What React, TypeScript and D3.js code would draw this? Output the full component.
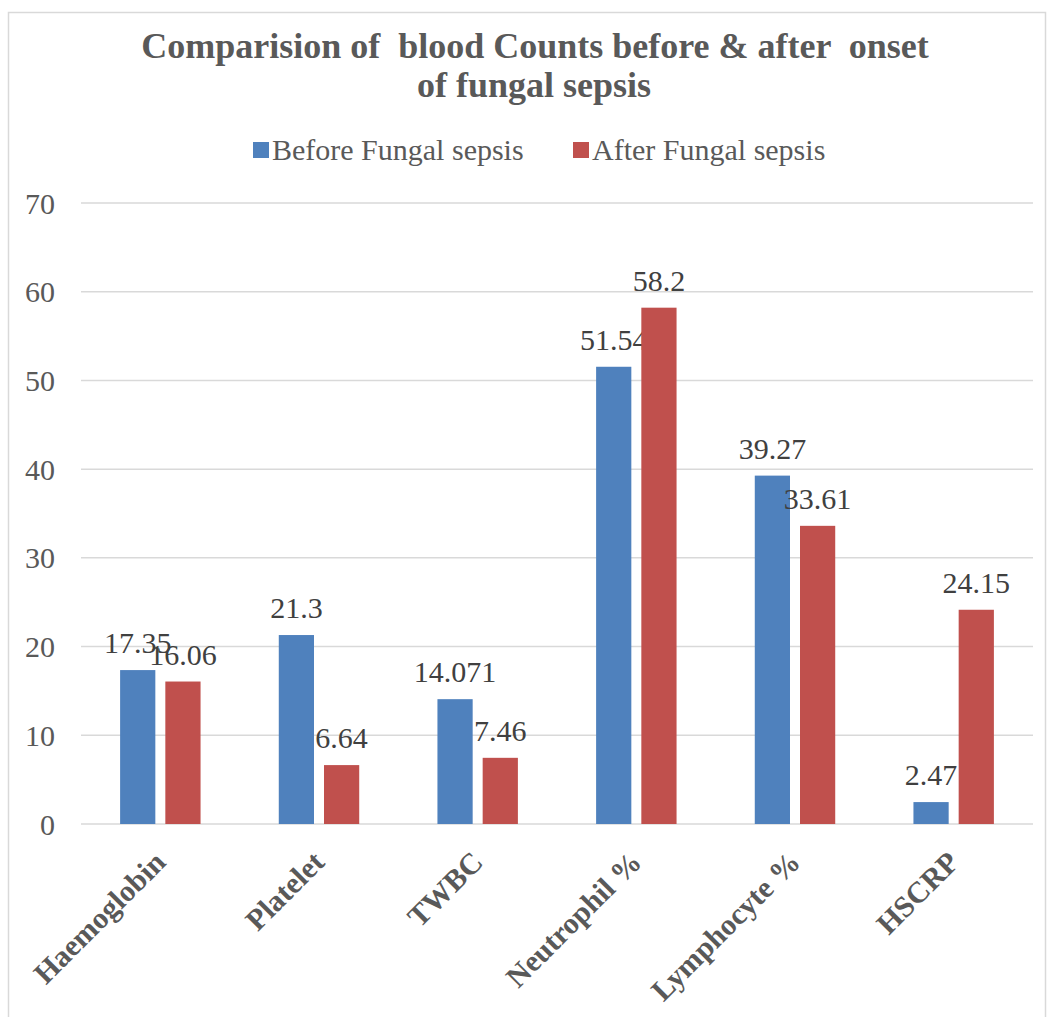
import React, { useEffect, useRef } from "react";
import * as d3 from "d3";

const categories = ["Haemoglobin", "Platelet", "TWBC", "Neutrophil %", "Lymphocyte %", "HSCRP"];
const beforeValues = [17.35, 21.3, 14.071, 51.54, 39.27, 2.47];
const afterValues = [16.06, 6.64, 7.46, 58.2, 33.61, 24.15];
const seriesNames = ["Before Fungal sepsis", "After Fungal sepsis"];
const seriesColors = ["#4f81bd", "#c0504d"];
const yTicks = [0, 10, 20, 30, 40, 50, 60, 70];

const W = 1054;
const H = 1017;
const FONT = "'Liberation Serif', 'Times New Roman', serif";

const App = () => {
  const svgRef = useRef<SVGSVGElement | null>(null);

  useEffect(() => {
    const svg = d3.select(svgRef.current);
    svg.selectAll("*").remove();

    const margin = { top: 203, right: 21, bottom: 193, left: 81 };
    const innerW = W - margin.left - margin.right;
    const innerH = H - margin.top - margin.bottom;

    // chart frame
    svg
      .append("rect")
      .attr("x", 8.5)
      .attr("y", 12.5)
      .attr("width", 1037)
      .attr("height", 1030)
      .attr("fill", "#fff")
      .attr("stroke", "#d9d9d9")
      .attr("stroke-width", 1.5);

    // title
    const title = svg
      .append("text")
      .attr("text-anchor", "middle")
      .attr("font-family", FONT)
      .attr("font-weight", "bold")
      .attr("font-size", 36)
      .attr("fill", "#595959")
      .style("white-space", "pre");
    title.append("tspan").attr("x", 535).attr("y", 58).text("Comparision of  blood Counts before & after  onset");
    title.append("tspan").attr("x", 534).attr("y", 97).text("of fungal sepsis");

    // legend
    const legend = svg.append("g").attr("font-family", FONT).attr("font-size", 30).attr("fill", "#595959");
    const legendX = [253, 573];
    seriesNames.forEach((name, i) => {
      legend
        .append("rect")
        .attr("x", legendX[i])
        .attr("y", 142)
        .attr("width", 16)
        .attr("height", 16)
        .attr("fill", seriesColors[i]);
      legend
        .append("text")
        .attr("x", legendX[i] + 19)
        .attr("y", 160)
        .text(name);
    });

    const g = svg.append("g").attr("transform", `translate(${margin.left},${margin.top})`);

    const x = d3.scaleBand().domain(categories).range([0, innerW]);
    const y = d3.scaleLinear().domain([0, 70]).range([innerH, 0]);
    const barW = x.bandwidth() * 0.222;
    const gap = 10;
    const x1 = d3
      .scaleOrdinal<number, number>()
      .domain([0, 1])
      .range([-gap / 2 - barW, gap / 2]);

    // gridlines
    g.selectAll(".grid")
      .data(yTicks)
      .enter()
      .append("line")
      .attr("x1", 0)
      .attr("x2", innerW)
      .attr("y1", (d) => y(d))
      .attr("y2", (d) => y(d))
      .attr("stroke", "#d9d9d9")
      .attr("stroke-width", 1.5);

    // y labels
    g.selectAll(".ylab")
      .data(yTicks)
      .enter()
      .append("text")
      .attr("x", -26)
      .attr("y", (d) => y(d))
      .attr("dy", "0.35em")
      .attr("text-anchor", "end")
      .attr("font-family", FONT)
      .attr("font-size", 30)
      .attr("fill", "#595959")
      .text((d) => d);

    const series = [beforeValues, afterValues];
    series.forEach((vals, si) => {
      const rows = categories.map((c, i) => ({ c, v: vals[i] }));
      g.selectAll(`.bar${si}`)
        .data(rows)
        .enter()
        .append("rect")
        .attr("x", (d) => (x(d.c) as number) + x.bandwidth() / 2 + x1(si))
        .attr("y", (d) => y(d.v))
        .attr("width", barW)
        .attr("height", (d) => innerH - y(d.v))
        .attr("fill", seriesColors[si]);

      g.selectAll(`.lab${si}`)
        .data(rows)
        .enter()
        .append("text")
        .attr("x", (d) => (x(d.c) as number) + x.bandwidth() / 2 + x1(si) + barW / 2)
        .attr("y", (d) => y(d.v) - 17)
        .attr("text-anchor", "middle")
        .attr("font-family", FONT)
        .attr("font-size", 30)
        .attr("fill", "#404040")
        .text((d) => String(d.v));
    });

    // x labels
    g.selectAll(".xlab")
      .data(categories)
      .enter()
      .append("text")
      .attr(
        "transform",
        (d) => `translate(${(x(d) as number) + x.bandwidth() / 2 + 7},${innerH + 40}) rotate(-45)`
      )
      .attr("text-anchor", "end")
      .attr("font-family", FONT)
      .attr("font-weight", "bold")
      .attr("font-size", 30)
      .attr("fill", "#595959")
      .text((d) => d);
  }, []);

  return (
    <svg
      ref={svgRef}
      width={W}
      height={H}
      style={{ position: "absolute", left: 0, top: 0, background: "#fff" }}
    />
  );
};

export default App;
